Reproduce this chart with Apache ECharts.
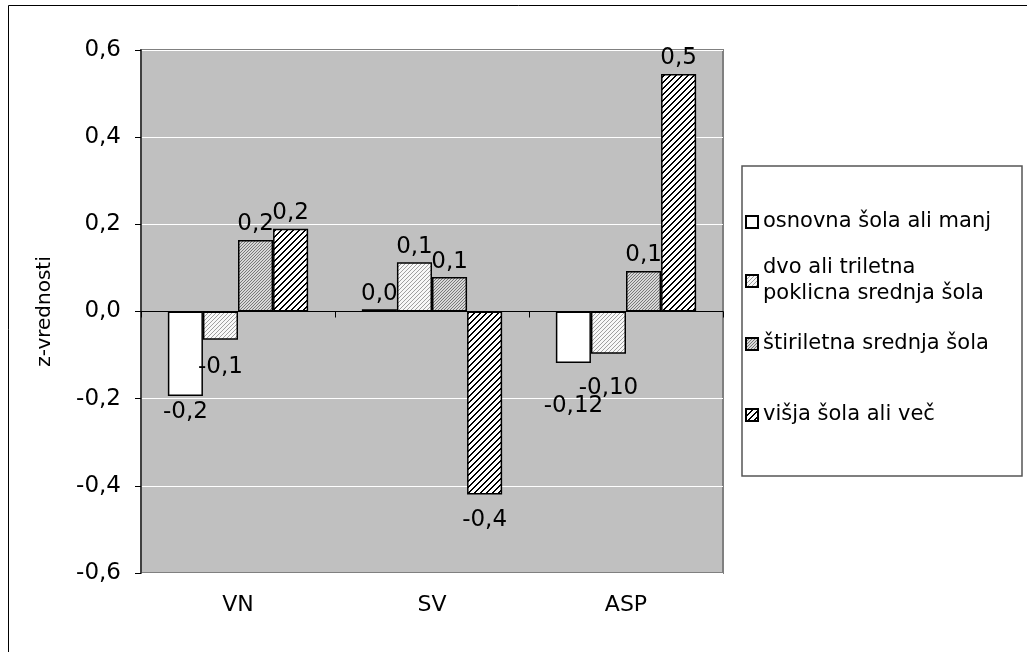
<!DOCTYPE html>
<html>
<head>
<meta charset="utf-8">
<script src="https://cdn.jsdelivr.net/npm/echarts@6/dist/echarts.min.js"></script>
<style>html,body{margin:0;padding:0;background:#fff;}#c{width:1027px;height:652px;}</style>
</head>
<body>
<div id="c"></div>
<script>
const categories = ['VN', 'SV', 'ASP'];
const seriesNames = ['osnovna šola ali manj', 'dvo ali triletna poklicna srednja šola', 'štiriletna srednja šola', 'višja šola ali več'];
const osnovna = [-0.194, 0.005, -0.118];
const dvo = [-0.065, 0.113, -0.097];
const stiri = [0.164, 0.079, 0.093];
const visja = [0.19, -0.42, 0.545];
const osnovnaLabels = ['-0,2', '0,0', '-0,12'];
const dvoLabels = ['-0,1', '0,1', '-0,10'];
const stiriLabels = ['0,2', '0,1', '0,1'];
const visjaLabels = ['0,2', '-0,4', '0,5'];
const yTickValues = [-0.6, -0.4, -0.2, 0.0, 0.2, 0.4, 0.6];

const FONT = 'DejaVu Sans';

function makePattern(size, fn) {
  const cv = document.createElement('canvas');
  cv.width = size; cv.height = size;
  const ctx = cv.getContext('2d');
  const img = ctx.createImageData(size, size);
  for (let y = 0; y < size; y++) {
    for (let x = 0; x < size; x++) {
      const c = fn(x, y);
      const i = (y * size + x) * 4;
      img.data[i] = c[0]; img.data[i + 1] = c[1]; img.data[i + 2] = c[2]; img.data[i + 3] = 255;
    }
  }
  ctx.putImageData(img, 0, 0);
  return cv;
}
const white = [255, 255, 255];
const dotPat = makePattern(4, (x, y) => ((x % 2 === 0 && y % 2 === 0) && ((x + y) % 4 === 0)) || ((x % 2 === 1 && y % 2 === 1) && ((x + y) % 4 === 0)) ? [160, 160, 160] : [248, 248, 248]);
const grayPat = makePattern(3, (x, y) => ((x + y) % 3 === 0) ? [120, 120, 120] : [215, 215, 215]);
const stripePat = makePattern(6, (x, y) => ((x + y) % 6 < 2) ? [0, 0, 0] : white);

const fills = ['#ffffff', { image: dotPat, repeat: 'repeat' }, { image: grayPat, repeat: 'repeat' }, { image: stripePat, repeat: 'repeat' }];
const values = [osnovna, dvo, stiri, visja];
const labels = [osnovnaLabels, dvoLabels, stiriLabels, visjaLabels];

// extra label distance (px) mimicking the original's label placement (series index, category index)
const extraLabelDistance = { '1-0': 12, '3-1': 10, '0-2': 28, '1-2': 19 };

const series = seriesNames.map((name, si) => ({
  name: name,
  type: 'bar',
  xAxisIndex: 0,
  barGap: '0%',
  barCategoryGap: '27.7%',
  itemStyle: { color: fills[si], borderColor: '#000', borderWidth: 1.5 },
  data: values[si].map((v, i) => ({
    value: v,
    label: {
      show: true,
      position: v < 0 ? 'bottom' : 'top',
      distance: 4 + (extraLabelDistance[si + '-' + i] || 0),
      formatter: labels[si][i],
      fontFamily: FONT, fontSize: 23, color: '#000'
    }
  }))
}));

const legendTops = [209, 255, 331, 402];
const legends = seriesNames.map((name, si) => ({
  data: [name],
  left: 745,
  top: legendTops[si],
  padding: 0,
  orient: 'vertical',
  itemWidth: 12, itemHeight: 12,
  icon: 'rect',
  selectedMode: false,
  itemGap: 4,
  textStyle: { fontFamily: FONT, fontSize: 21, color: '#000', lineHeight: 26 },
  formatter: n => n === 'dvo ali triletna poklicna srednja šola' ? 'dvo ali triletna\npoklicna srednja šola' : n
}));

const chart = echarts.init(document.getElementById('c'), null, { renderer: 'canvas' });
chart.setOption({
  animation: false,
  backgroundColor: '#fff',
  graphic: [
    { type: 'rect', shape: { x: 8.5, y: 5.5, width: 1100, height: 700 }, style: { fill: 'none', stroke: '#000', lineWidth: 1 }, z: -10 },
    { type: 'rect', shape: { x: 742, y: 166, width: 280, height: 310 }, style: { fill: '#fff', stroke: '#555', lineWidth: 1.5 }, z: -5 }
  ],
  grid: { left: 141, right: 304, top: 50, bottom: 79, show: true, backgroundColor: '#c0c0c0', borderColor: '#808080', borderWidth: 2 },
  legend: legends,
  xAxis: [
    {
      type: 'category', data: categories, position: 'bottom',
      axisLine: { show: false, onZero: false }, axisTick: { show: false },
      axisLabel: { fontFamily: FONT, fontSize: 22, color: '#000', margin: 21 }
    },
    {
      type: 'category', data: categories, position: 'bottom',
      axisLine: { show: true, onZero: true, lineStyle: { color: '#000', width: 1 } },
      axisTick: { show: true, length: 6, lineStyle: { color: '#000' } },
      axisLabel: { show: false }
    }
  ],
  yAxis: {
    type: 'value', min: -0.6, max: 0.6, interval: 0.2,
    name: 'z-vrednosti', nameLocation: 'middle', nameGap: 86, nameRotate: 90,
    nameTextStyle: { fontFamily: FONT, fontSize: 20, color: '#000' },
    axisLine: { show: true, lineStyle: { color: '#404040', width: 2 } },
    axisTick: { show: true, length: 6, lineStyle: { color: '#000' } },
    axisLabel: { fontFamily: FONT, fontSize: 23, color: '#000', margin: 20,
      formatter: v => { const t = yTickValues.find(x => Math.abs(x - v) < 1e-9); return (t !== undefined ? t : v).toFixed(1).replace('.', ','); } },
    splitLine: { show: true, lineStyle: { color: '#ffffff', width: 1 } }
  },
  series: series
});
</script>
</body>
</html>
